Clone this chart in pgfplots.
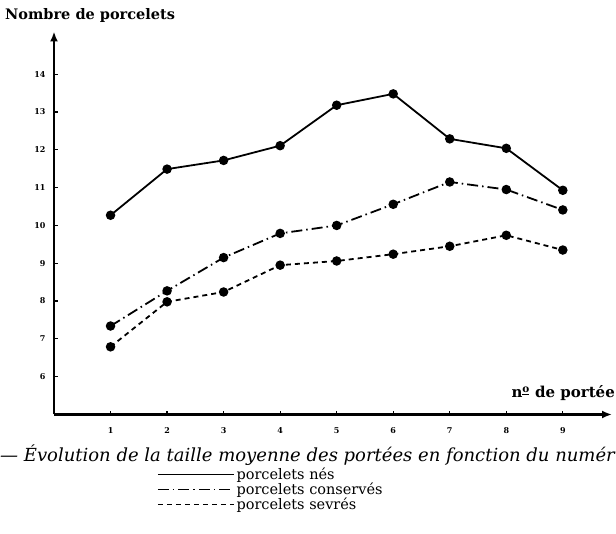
\documentclass[border=0pt]{standalone}
\usepackage{fontspec}
\setmainfont{DejaVu Serif}
\newfontfamily\slab{DejaVu Serif}
\usepackage{pgfplots}
\pgfplotsset{compat=1.18}
\usetikzlibrary{arrows.meta}

\begin{document}
\begin{tikzpicture}[x=1pt,y=1pt]
\begin{scope}
\clip (0,0) rectangle (616,534);
\begin{axis}[
  at={(54pt,119.5pt)}, anchor=south west,
  scale only axis, width=558pt, height=383pt,
  xmin=0, xmax=9.87, ymin=5, ymax=15.13,
  axis lines=left,
  axis line style={line width=2.2pt, -{Latex[length=10pt,width=8pt]}},
  xtick={1,...,9}, ytick={6,...,14},
  tick align=inside, major tick length=3.5pt,
  tick style={line width=1.2pt, black},
  /pgf/number format/assume math mode=true,
  ticklabel style={font=\slab\bfseries\fontsize{8}{9}\selectfont},
  xticklabel style={yshift=-10pt},
  yticklabel style={xshift=-5pt},
  clip=false,
  legend style={at={(axis description cs:0.185,-0.135)}, anchor=north west,
    draw=none, fill=none, font=\fontsize{14.5}{16}\selectfont,
    row sep=-2.5pt, inner sep=0pt, cells={anchor=west}},
  legend image code/.code={\draw[#1, line width=1.1pt] (0pt,0pt) -- (76pt,0pt);},
  every axis plot/.append style={line width=1.8pt, black, mark=*, mark size=3.8pt, mark options={solid, fill=black}},
]
\addplot[black] coordinates {(1,10.27) (2,11.49) (3,11.72) (4,12.11) (5,13.18) (6,13.48) (7,12.29) (8,12.04) (9,10.93)};
\addlegendentry{porcelets nés}
\addplot[black, dash pattern=on 11pt off 4pt on 1.5pt off 4pt] coordinates {(1,7.34) (2,8.27) (3,9.15) (4,9.79) (5,10.00) (6,10.56) (7,11.15) (8,10.95) (9,10.41)};
\addlegendentry{porcelets conservés}
\addplot[black, dash pattern=on 5pt off 4pt] coordinates {(1,6.79) (2,7.98) (3,8.24) (4,8.95) (5,9.06) (6,9.24) (7,9.45) (8,9.74) (9,9.35)};
\addlegendentry{porcelets sevrés}
\end{axis}
\node[anchor=west, inner sep=0pt] at (5,518) {\slab\bfseries\fontsize{14.5}{15}\selectfont Nombre de porcelets};
\node[anchor=east, inner sep=0pt] at (615,141) {\slab\bfseries\fontsize{15}{16}\selectfont n\textsuperscript{\underline{o}} de portée};
\node[anchor=west, inner sep=0pt] at (0,79) {\itshape\fontsize{18}{20}\selectfont — Évolution de la taille moyenne des portées en fonction du numér};
\end{scope}
\pgfresetboundingbox
\useasboundingbox (0,0) rectangle (616,534);
\end{tikzpicture}
\end{document}
